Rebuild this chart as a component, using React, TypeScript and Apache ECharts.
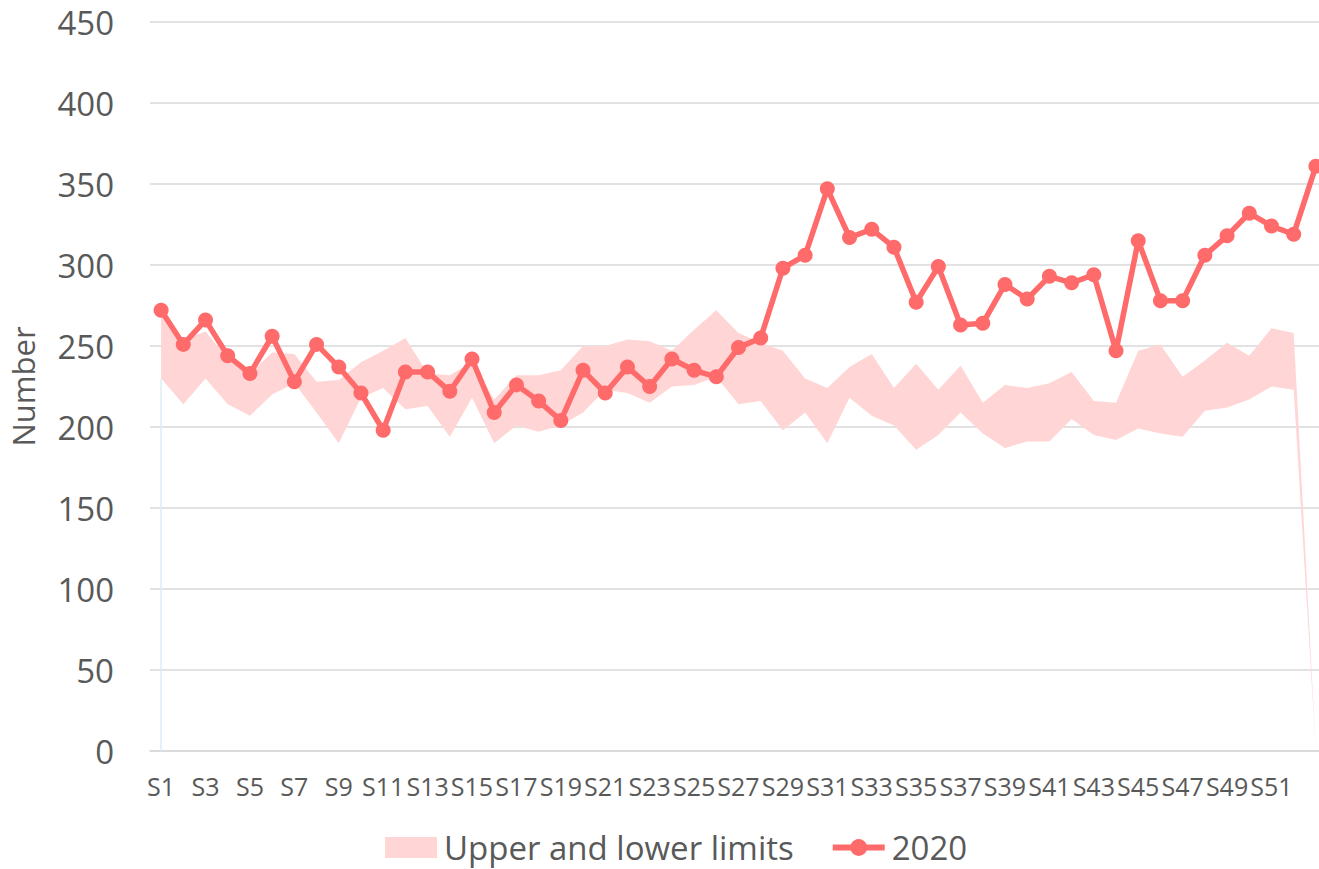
import React, { useEffect, useRef } from "react";
import * as echarts from "echarts";

const categories: string[] = Array.from({ length: 53 }, (_, i) => "S" + (i + 1));

const lowerLimit: number[] = [
  230, 214, 230, 214, 207, 220, 227, 209, 190, 218, 224, 211, 213, 194, 218, 190, 201, 197, 201, 209,
  223, 221, 215, 225, 226, 231, 214, 216, 198, 209, 190, 218, 207, 201, 186, 195, 209, 196, 187, 191,
  191, 205, 195, 192, 199, 196, 194, 210, 212, 217, 225, 223, 0,
];

const upperLimit: number[] = [
  270, 254, 259, 242, 233, 246, 245, 228, 229, 240, 247, 255, 233, 232, 240, 217, 232, 232, 235, 250,
  250, 254, 253, 247, 260, 272, 258, 252, 247, 230, 224, 237, 245, 224, 239, 223, 238, 215, 226, 224,
  227, 234, 216, 215, 247, 251, 231, 241, 252, 244, 261, 258, 0,
];

const values2020: number[] = [
  272, 251, 266, 244, 233, 256, 228, 251, 237, 221, 198, 234, 234, 222, 242, 209, 226, 216, 204, 235,
  221, 237, 225, 242, 235, 231, 249, 255, 298, 306, 347, 317, 322, 311, 277, 299, 263, 264, 288, 279,
  293, 289, 294, 247, 315, 278, 278, 306, 318, 332, 324, 319, 361,
];

const yTicks = { min: 0, max: 450, interval: 50 };

const FONT = "'Open Sans', 'Noto Sans', sans-serif";
const TEXT = "#595959";
const LINE = "#FF6B6B";
const BAND = "#FFD5D5";

export default function App() {
  const ref = useRef<HTMLDivElement>(null);

  useEffect(() => {
    if (!ref.current) return;
    const chart = echarts.init(ref.current, undefined, { renderer: "svg" });
    const bandDiff = upperLimit.map((u, i) => u - lowerLimit[i]);
    chart.setOption({
      animation: false,
      textStyle: { fontFamily: FONT },
      grid: {
        left: 150,
        top: 22,
        width: 1177,
        bottom: 118,
        containLabel: false,
        outerBoundsMode: "none",
      },
      legend: {
        left: 380,
        top: 826,
        itemWidth: 52,
        itemHeight: 21,
        itemGap: 36,
        textStyle: { fontSize: 33, color: TEXT, fontFamily: FONT, padding: [0, 0, 0, 2] },
        data: [
          { name: "Upper and lower limits", icon: "rect" },
          { name: "2020", lineStyle: { width: 6, color: LINE }, itemStyle: { color: LINE } },
        ],
      },
      xAxis: {
        type: "category",
        data: categories,
        boundaryGap: true,
        axisLine: { show: true, lineStyle: { color: "#D9D9D9", width: 1.5 } },
        axisTick: { show: false },
        axisLabel: {
          interval: (i: number) => i % 2 === 0 && i < 52,
          fontSize: 25,
          color: TEXT,
          margin: 22,
          fontFamily: FONT,
        },
        splitLine: { show: false },
      },
      yAxis: {
        type: "value",
        min: yTicks.min,
        max: yTicks.max,
        interval: yTicks.interval,
        name: "Number",
        nameLocation: "middle",
        nameRotate: 90,
        nameGap: 112,
        nameTextStyle: { fontSize: 31, color: TEXT, fontFamily: FONT },
        axisLine: { show: false },
        axisTick: { show: false },
        axisLabel: { fontSize: 33, color: TEXT, margin: 36, fontFamily: FONT },
        splitLine: { lineStyle: { color: "#D9D9D9", width: 1.5 } },
      },
      series: [
        {
          name: "lower",
          type: "line",
          stack: "band",
          data: lowerLimit,
          symbol: "none",
          lineStyle: { opacity: 0 },
          areaStyle: { opacity: 0 },
          silent: true,
          markLine: {
            silent: true,
            symbol: "none",
            label: { show: false },
            lineStyle: { color: "#DDEBF7", width: 1.5, type: "solid" },
            data: [[{ coord: [categories[0], 0] }, { coord: [categories[0], lowerLimit[0]] }]],
          },
        },
        {
          name: "Upper and lower limits",
          type: "line",
          stack: "band",
          data: bandDiff,
          symbol: "none",
          lineStyle: { opacity: 0 },
          itemStyle: { color: BAND },
          areaStyle: { color: BAND, opacity: 1 },
        },
        {
          name: "2020",
          type: "line",
          data: values2020,
          symbol: "circle",
          symbolSize: 15,
          showAllSymbol: true,
          itemStyle: { color: LINE },
          lineStyle: { color: LINE, width: 5.5 },
          z: 5,
        },
      ],
    });
    return () => chart.dispose();
  }, []);

  return (
    <div
      style={{ position: "fixed", left: 0, top: 0, width: 1319, height: 869, overflow: "hidden", background: "#fff" }}
    >
      <div ref={ref} style={{ width: 1344, height: 869 }} />
    </div>
  );
}
